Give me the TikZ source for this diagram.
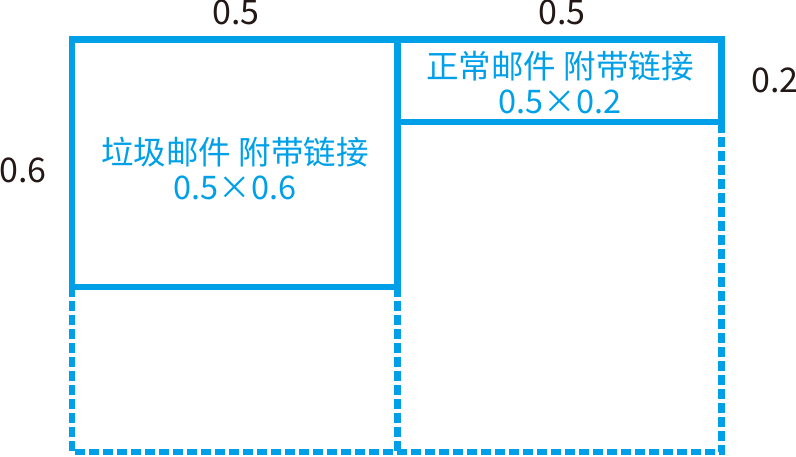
\documentclass[tikz,border=0pt]{standalone}
\usepackage{fontspec}
\newfontfamily\cjk{Noto Sans CJK SC}
\definecolor{mailblue}{HTML}{00A0E9}
\definecolor{numblack}{HTML}{231815}
\tikzset{
  solidedge/.style={draw=mailblue, line width=6.5pt},
  dashedge/.style={draw=mailblue, line width=6.5pt, dash pattern=on 10pt off 4pt},
  boxlabel/.style={text=mailblue, align=center, font=\cjk\fontsize{32.5}{35}\selectfont},
  sizelabel/.style={text=numblack, inner sep=0pt, text height=24pt, text depth=0pt,
    font=\cjk\fontsize{34}{40}\selectfont},
}
\begin{document}
\begin{tikzpicture}[x=1pt,y=-1pt]
    \useasboundingbox (0,0) rectangle (796,456);

    % parte tratteggiata sotto
    \draw[dashedge] (72,287) -- (72,452) -- (721.5,452) -- (721.5,122);
    \draw[dashedge] (397.5,287) -- (397.5,452);

    % le due caselle piene
    \draw[solidedge] (72,39.5) rectangle (397.5,287);
    \draw[solidedge] (397.5,39.5) rectangle (721.5,122);

    \node[boxlabel] (spam) at (235,168) {垃圾邮件 附带链接\\0.5×0.6};
    \node[boxlabel] (ham) at (560,83) {正常邮件 附带链接\\0.5×0.2};

    \node[sizelabel] (spamw) at (236,12) {0.5};
    \node[sizelabel] (hamw) at (562,12) {0.5};
    \node[sizelabel, anchor=west] (spamh) at (-1,170) {0.6};
    \node[sizelabel, anchor=west] (hamh) at (751,80) {0.2};
\end{tikzpicture}
\end{document}
